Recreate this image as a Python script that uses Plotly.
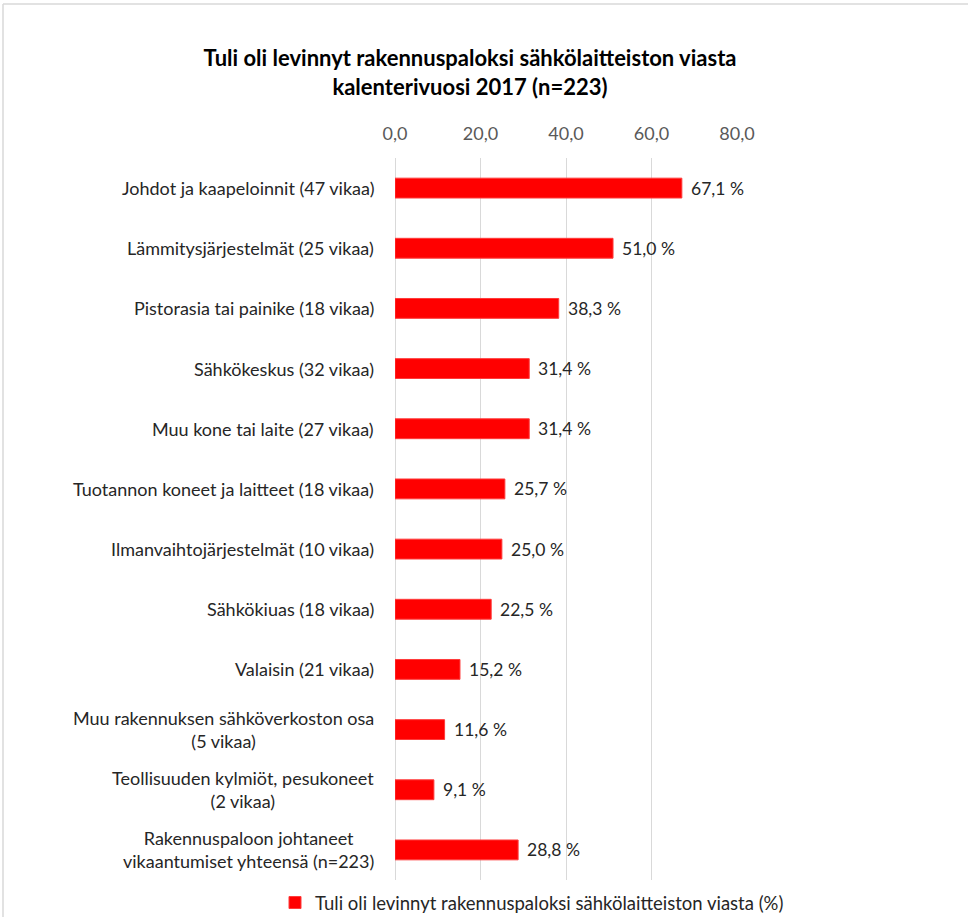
import plotly.graph_objects as go

categories = [
    "Johdot ja kaapeloinnit (47 vikaa)",
    "Lämmitysjärjestelmät (25 vikaa)",
    "Pistorasia tai painike (18 vikaa)",
    "Sähkökeskus (32 vikaa)",
    "Muu kone tai laite (27 vikaa)",
    "Tuotannon koneet ja laitteet (18 vikaa)",
    "Ilmanvaihtojärjestelmät (10 vikaa)",
    "Sähkökiuas (18 vikaa)",
    "Valaisin (21 vikaa)",
    "Muu rakennuksen sähköverkoston osa<br>(5 vikaa)",
    "Teollisuuden kylmiöt, pesukoneet<br>(2 vikaa)",
    "Rakennuspaloon johtaneet<br>vikaantumiset yhteensä (n=223)",
]
values = [67.1, 51.0, 38.3, 31.4, 31.4, 25.7, 25.0, 22.5, 15.2, 11.6, 9.1, 28.8]
tick_values = [0, 20, 40, 60, 80]
tick_labels = ["0,0", "20,0", "40,0", "60,0", "80,0"]
series_name = "Tuli oli levinnyt rakennuspaloksi sähkölaitteiston viasta (%)"
title_text = "Tuli oli levinnyt rakennuspaloksi sähkölaitteiston viasta<br>kalenterivuosi 2017 (n=223)"

W, H = 968, 917
ml, mr, mt, mb = 395, 231, 158, 37
pw, ph = W - ml - mr, H - mt - mb
FONT = "Lato, Open Sans, sans-serif"

labels = [f"{v:.1f}".replace(".", ",") + " %" for v in values]
ids = list(range(len(categories)))

fig = go.Figure()
fig.add_trace(go.Bar(
    y=ids, x=values, orientation="h",
    name=series_name,
    marker=dict(color="#FF0000", line=dict(color="#FF3B3B", width=1)),
    showlegend=True,
))

annotations = []
for i, c in enumerate(categories):
    annotations.append(dict(
        text=c, xref="paper", yref="y", x=0, y=i, xanchor="right", yanchor="middle",
        xshift=-19, align="center", showarrow=False,
        font=dict(family=FONT, size=18, color="#262626"),
    ))
for i, (v, t) in enumerate(zip(values, labels)):
    annotations.append(dict(
        text=t, xref="x", yref="y", x=v, y=i, xanchor="left", yanchor="middle",
        xshift=7, showarrow=False,
        font=dict(family=FONT, size=17.5, color="#262626"),
    ))

fig.update_layout(
    width=W, height=H,
    margin=dict(l=ml, r=mr, t=mt, b=mb, pad=0, autoexpand=False),
    paper_bgcolor="white", plot_bgcolor="white",
    bargap=0.67,
    title=dict(text=title_text, x=470 / W, xanchor="center", y=1 - 66 / H, yanchor="middle",
               font=dict(family=FONT, size=22, color="#000000", weight="bold")),
    xaxis=dict(side="top", range=[0, 80], tickvals=tick_values, ticktext=tick_labels,
               showgrid=True, gridcolor="#D9D9D9", gridwidth=1.3, zeroline=True,
               zerolinecolor="#D9D9D9", zerolinewidth=1.3, showline=False,
               ticks="outside", ticklen=10, tickcolor="rgba(0,0,0,0)",
               tickfont=dict(family=FONT, size=18, color="#595959"), fixedrange=True),
    yaxis=dict(tickvals=ids, showticklabels=False, autorange=False,
               range=[len(categories) - 0.5, -0.5], showgrid=False, zeroline=False,
               showline=False),
    legend=dict(orientation="h", x=(532 - ml) / pw, xanchor="center",
                y=(H - mb - 903) / ph, yanchor="middle",
                font=dict(family=FONT, size=18.5, color="#262626"),
                itemwidth=30, bgcolor="rgba(0,0,0,0)"),
    annotations=annotations,
    shapes=[
        dict(type="line", xref="paper", yref="paper",
             x0=(3 - ml) / pw, x1=(W + 5 - ml) / pw,
             y0=(H - mb - 4) / ph, y1=(H - mb - 4) / ph,
             line=dict(color="#D9D9D9", width=1.5)),
        dict(type="line", xref="paper", yref="paper",
             x0=(3 - ml) / pw, x1=(3 - ml) / pw,
             y0=(H - mb - 4) / ph, y1=(H - mb - H - 10) / ph,
             line=dict(color="#D9D9D9", width=1.5)),
    ],
)

fig.write_html("out.html")
